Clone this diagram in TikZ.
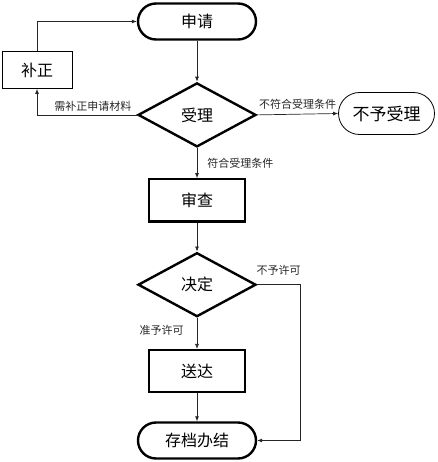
\documentclass[tikz,border=0pt]{standalone}
\usepackage{fontspec}
\setmainfont{Noto Sans CJK SC}
\usetikzlibrary{positioning,shapes.geometric,arrows.meta}

\begin{document}
\begin{tikzpicture}[x=1pt,y=1pt,
    arr/.style={-{Latex[length=5pt,width=4pt]}, line width=0.7pt, black!85},
    lbl/.style={font=\fontsize{11}{13}\selectfont, inner sep=1pt},
    term/.style={draw, rectangle, rounded corners=18pt, line width=2.4pt,
      minimum width=118pt, minimum height=36pt, font=\fontsize{16}{18}\selectfont},
    proc/.style={draw, rectangle, line width=2.4pt,
      minimum width=96pt, minimum height=42pt, font=\fontsize{16}{18}\selectfont},
    judge/.style={draw, diamond, line width=2.4pt, inner sep=0pt,
      minimum width=118pt, minimum height=64pt, font=\fontsize{16}{18}\selectfont}]
  \useasboundingbox (0,0) rectangle (437,-462);

  % main column
  \node[term] (apply) at (197,-21.5) {申请};
  \node[judge, below=41pt of apply] (accept) {受理};
  \node[proc, below=30pt of accept] (review) {审查};
  \node[judge, below=29pt of review] (decide) {决定};
  \node[proc, below=31pt of decide] (deliver) {送达};
  \node[term, below=28pt of deliver] (archive) {存档办结};

  % side nodes
  \node[draw, rectangle, line width=0.8pt, minimum width=70pt,
    minimum height=37pt, font=\fontsize{16}{18}\selectfont] (fix) at (37,-70) {补正};
  \node[draw, rectangle, rounded corners=21pt, line width=0.8pt,
    minimum width=96pt, minimum height=42pt,
    font=\fontsize{17}{19}\selectfont] (reject) at (386.5,-113.5) {不予受理};

  \draw[arr] (apply) -- (accept);
  \draw[arr] (accept.west) -| node[lbl, pos=0.22, above=2pt] {需补正申请材料} (fix.south);
  \draw[arr] (fix.north) |- (apply.west);
  \draw[arr] (accept.east) -- node[lbl, above=3pt] {不符合受理条件} (reject.west);
  \draw[arr] (accept) -- node[lbl, right=9pt] {符合受理条件} (review);
  \draw[arr] (review) -- (decide);
  \draw[arr] (decide) -- node[lbl, left=12pt, pos=0.4] {准予许可} (deliver);
  \draw[arr] (decide.east) -- node[lbl, above=8pt] {不予许可} ++(43,0) |- (archive.east);
  \draw[arr] (deliver) -- (archive);
\end{tikzpicture}
\end{document}
